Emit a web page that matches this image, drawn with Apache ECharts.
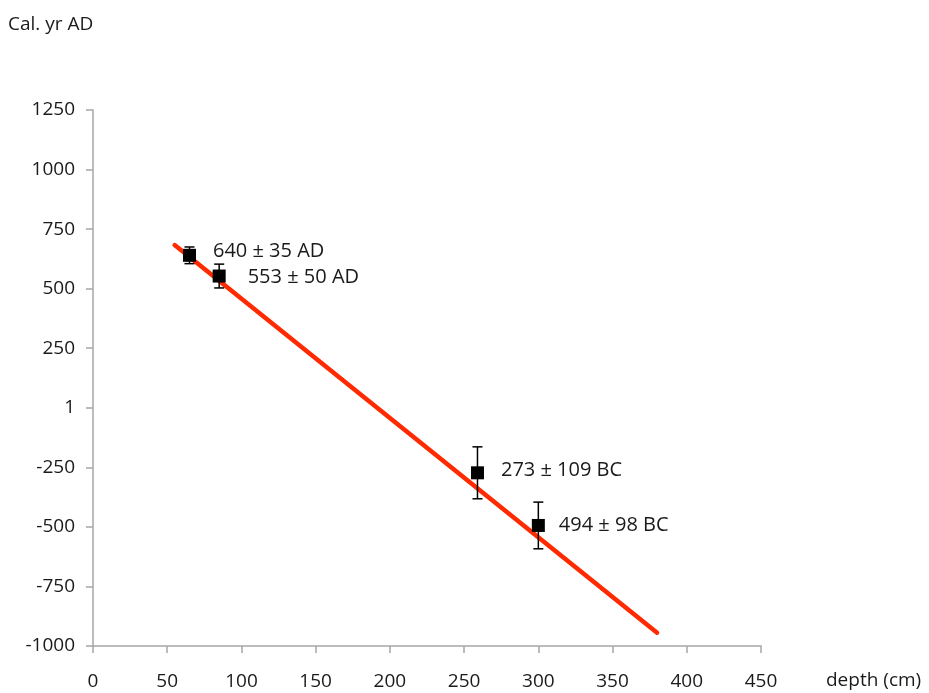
<!DOCTYPE html>
<html>
<head>
<meta charset="utf-8">
<script src="https://cdn.jsdelivr.net/npm/echarts@6/dist/echarts.min.js"></script>
<style>
  html, body { margin: 0; padding: 0; background: #fff; }
  #main { width: 929px; height: 693px; }
</style>
</head>
<body>
<div id="main"></div>
<script>
// sample depths (cm) and calibrated ages (yr AD, BC negative)
var depths = [65, 85, 259, 300];
var ages = [640, 553, -273, -494];
var errors = [35, 50, 109, 98];
var dateLabels = ['640 ± 35 AD', '553 ± 50 AD', '273 ± 109 BC', '494 ± 98 BC'];
// age-depth model end points
var modelDepths = [55, 380];
var modelAges = [683, -944];

var font = 'Open Sans';
var txt = '#1a1a1a';
var chart = echarts.init(document.getElementById('main'));

var points = depths.map(function (d, i) { return [d, ages[i]]; });
var bars = depths.map(function (d, i) { return [d, ages[i] - errors[i], ages[i] + errors[i]]; });
var line = modelDepths.map(function (d, i) { return [d, modelAges[i]]; });

chart.setOption({
  animation: false,
  grid: { left: 93, right: 168, top: 110, bottom: 47, containLabel: false },
  graphic: [
    { type: 'text', x: 8, y: 25, style: { text: 'Cal. yr AD', fontSize: 19, fontFamily: font, fill: txt, verticalAlign: 'middle' } },
    { type: 'text', x: 826, y: 681, style: { text: 'depth (cm)', fontSize: 19, fontFamily: font, fill: txt, verticalAlign: 'middle' } }
  ],
  xAxis: {
    type: 'value', min: 0, max: 450, interval: 50,
    axisLine: { onZero: false, lineStyle: { color: '#a6a6a6', width: 1.5 } },
    axisTick: { show: true, length: 7, lineStyle: { color: '#a6a6a6', width: 1.5 } },
    axisLabel: { color: txt, fontSize: 19, fontFamily: font, margin: 26 },
    splitLine: { show: false }
  },
  yAxis: {
    type: 'value', min: -1000, max: 1250, interval: 250,
    axisLine: { show: true, lineStyle: { color: '#a6a6a6', width: 1.5 } },
    axisTick: { show: true, length: 7, lineStyle: { color: '#a6a6a6', width: 1.5 } },
    axisLabel: {
      color: txt, fontSize: 19, fontFamily: font, margin: 18,
      formatter: function (v) { return v === 0 ? '1' : String(v); }
    },
    splitLine: { show: false }
  },
  series: [
    {
      type: 'line', data: line, symbol: 'none', z: 2,
      lineStyle: { color: '#ff2a00', width: 4.5, cap: 'round' }
    },
    {
      type: 'custom', z: 3, data: bars,
      renderItem: function (params, api) {
        var x = api.value(0);
        var lo = api.coord([x, api.value(1)]);
        var hi = api.coord([x, api.value(2)]);
        var hw = 5;
        var st = { stroke: '#000', lineWidth: 1.5 };
        return {
          type: 'group',
          children: [
            { type: 'line', shape: { x1: lo[0], y1: lo[1], x2: hi[0], y2: hi[1] }, style: st },
            { type: 'line', shape: { x1: lo[0] - hw, y1: lo[1], x2: lo[0] + hw, y2: lo[1] }, style: st },
            { type: 'line', shape: { x1: hi[0] - hw, y1: hi[1], x2: hi[0] + hw, y2: hi[1] }, style: st }
          ]
        };
      }
    },
    {
      type: 'scatter', data: points, symbol: 'rect', symbolSize: 13, z: 4,
      itemStyle: { color: '#000', opacity: 1 },
      label: {
        show: true, position: 'right', distance: 17,
        color: txt, fontSize: 20, fontFamily: font,
        formatter: function (p) { return dateLabels[p.dataIndex]; }
      },
      labelLayout: function (p) {
        var dy = [-4, 1, -3, 0][p.dataIndex];
        var dx = [0, 5, 0, -3][p.dataIndex];
        return { dx: dx, dy: dy };
      }
    }
  ]
});
</script>
</body>
</html>
